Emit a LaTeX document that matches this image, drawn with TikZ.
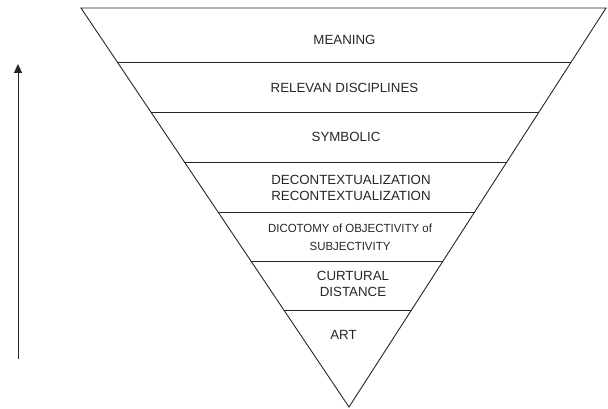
\documentclass[tikz,border=0pt]{standalone}
\usepackage{fontspec}
\setmainfont{Liberation Sans}
\usetikzlibrary{arrows.meta}
\begin{document}
\begin{tikzpicture}[x=1pt,y=-1pt,
  band/.style={draw=black!85, line width=0.9pt},
  lbl/.style={align=center, font=\fontsize{13.3}{15.5}\selectfont, text=black!85, inner sep=0pt},
  slbl/.style={align=center, font=\fontsize{11.8}{18}\selectfont, text=black!85, inner sep=0pt}]
\useasboundingbox (0,0) rectangle (608,409);
% triangle corners
\coordinate (TL) at (81,8);
\coordinate (TR) at (606,8);
\coordinate (AP) at (349,407);
\draw[band, line join=miter] (TL) -- (TR) -- (AP) -- cycle;
% band dividers
\foreach \yy [count=\i] in {62,112,162,212,261,310}{
  \path (TL) -- (AP) coordinate[pos={(\yy-8)/399}] (L\i);
  \path (TR) -- (AP) coordinate[pos={(\yy-8)/399}] (R\i);
  \draw[band] (L\i) -- (R\i);
}
\node[lbl] (meaning) at (344.5,40) {MEANING};
\node[lbl] (relevan) at (344.5,88) {RELEVAN DISCIPLINES};
\node[lbl] (symbolic) at (346,137) {SYMBOLIC};
\node[lbl] (decon) at (351,188) {DECONTEXTUALIZATION\\RECONTEXTUALIZATION};
\node[slbl] (dicot) at (350,237) {\scalebox{0.97}[1]{DICOTOMY of OBJECTIVITY of}\\\scalebox{0.97}[1]{SUBJECTIVITY}};
\node[lbl] (curt) at (353,284) {CURTURAL\\DISTANCE};
\node[lbl] (art) at (343.5,335) {ART};
% arrow
\coordinate (abot) at (18,359);
\coordinate (atop) at (18,64);
\draw[line width=0.9pt, draw=black!85, -{Triangle[length=9pt,width=8pt]}] (abot) -- (atop);
\end{tikzpicture}
\end{document}
